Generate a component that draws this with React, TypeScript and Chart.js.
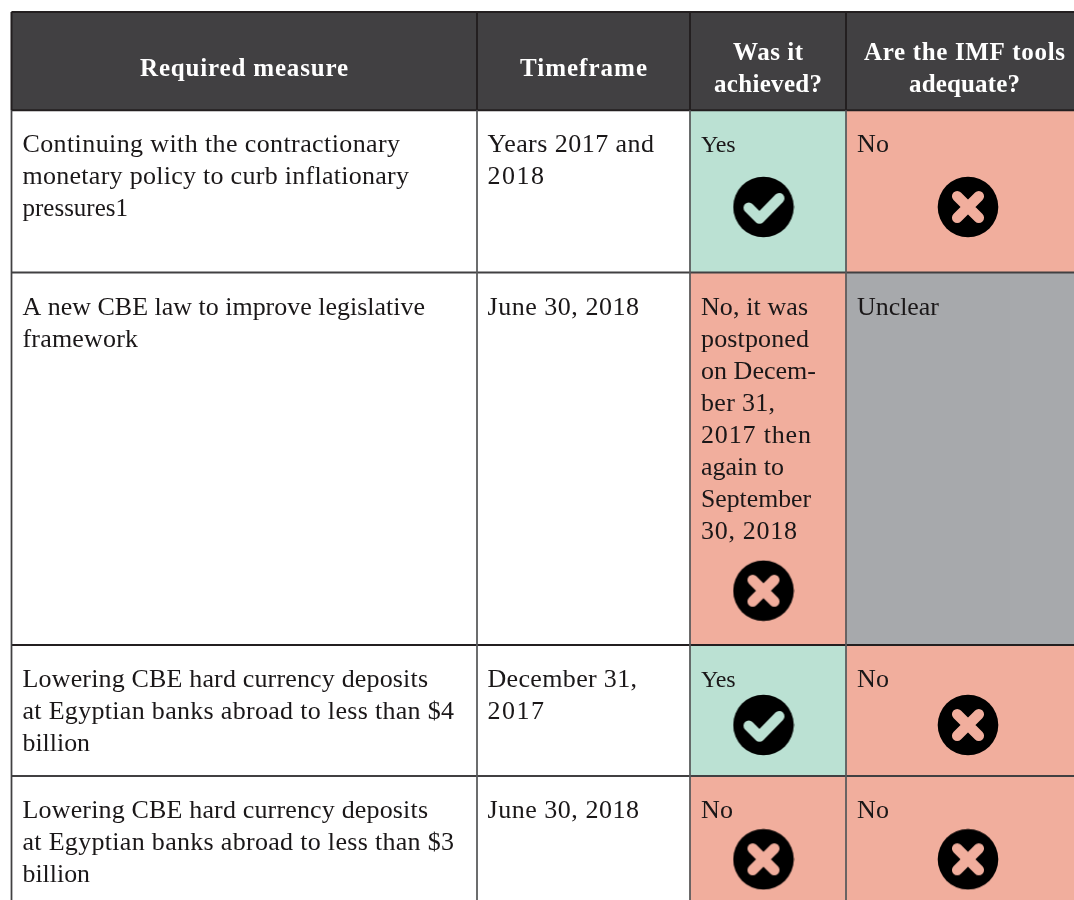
import React, { useEffect, useRef } from "react";
import { Chart, registerables } from "chart.js";

Chart.register(...registerables);

// ---- Table content ----
const headers: string[][] = [
  ["Required measure"],
  ["Timeframe"],
  ["Was it", "achieved?"],
  ["Are the IMF tools", "adequate?"],
];
const measures: string[][] = [
  ["Continuing with the contractionary", "monetary policy to curb inflationary", "pressures1"],
  ["A new CBE law to improve legislative", "framework"],
  ["Lowering CBE hard currency deposits", "at Egyptian banks abroad to less than $4", "billion"],
  ["Lowering CBE hard currency deposits", "at Egyptian banks abroad to less than $3", "billion"],
];
const timeframes: string[][] = [
  ["Years 2017 and", "2018"],
  ["June 30, 2018"],
  ["December 31,", "2017"],
  ["June 30, 2018"],
];
const achievedText: string[][] = [
  ["Yes"],
  ["No, it was", "postponed", "on Decem-", "ber 31,", "2017 then", "again to", "September", "30, 2018"],
  ["Yes"],
  ["No"],
];
const achievedStatus: string[] = ["yes", "no", "yes", "no"];
const adequateText: string[][] = [["No"], ["Unclear"], ["No"], ["No"]];
const adequateStatus: string[] = ["no", "unclear", "no", "no"];

// ---- Layout (in the scale's units, which are page pixels) ----
const W = 1074;
const H = 900;
const colEdges = [11.5, 477, 690, 846, 1076];
const rowEdges = [12, 110.3, 272.5, 645, 776, 905];
const textX = [22.5, 487.5, 701, 857];
const headBase = [[76], [76], [60, 92], [60, 92]];
const headSpan = [
  [[140, 348]],
  [[520, 647]],
  [[733, 803], [714, 822]],
  [[864, 1065], [909, 1020]],
];
const firstBase = [152, 315, 687, 818];
const lineStep = 32;
// right-hand end of every body line, so the substitute font keeps each line's length
const lineEnds: number[][][] = [
  [[400, 409, 128], [425, 138], [428, 454, 90], [428, 454, 90]],
  [[654, 544], [639], [637, 544], [639]],
  [[735.5], [808, 809, 816, 775, 811, 784, 811, 797], [735.5], [733]],
  [[889], [939], [889], [889]],
];
const iconAchievedX = 763.5;
const iconAdequateX = 968;
const iconY = [207, 590.7, 725, 859.3];

const COL = {
  head: "#414042",
  yes: "#bbe1d3",
  no: "#f1ae9d",
  unclear: "#a7a9ac",
  lineDark: "#231f20",
  line: "#58595b",
  text: "#1a1718",
};
const rowRuleColor = ["#414042", "#231f20", "#414042"];
const statusColor = (s: string) => (s === "yes" ? COL.yes : s === "no" ? COL.no : COL.unclear);

const ICON = 62;
function makeIcon(kind: string): HTMLCanvasElement {
  const c = document.createElement("canvas");
  c.width = ICON;
  c.height = ICON;
  const g = c.getContext("2d") as CanvasRenderingContext2D;
  g.translate(ICON / 2, ICON / 2);
  g.fillStyle = "#000";
  g.beginPath();
  g.arc(0, 0, 30.3, 0, Math.PI * 2);
  g.fill();
  g.strokeStyle = statusColor(kind);
  g.lineWidth = 10.5;
  g.lineCap = "round";
  g.lineJoin = "round";
  g.beginPath();
  if (kind === "yes") {
    g.moveTo(-14.75, 0.7);
    g.lineTo(-4, 11.5);
    g.lineTo(15.75, -8.75);
  } else {
    g.moveTo(-10.8, -10.8);
    g.lineTo(10.8, 10.8);
    g.moveTo(10.8, -10.8);
    g.lineTo(-10.8, 10.8);
  }
  g.stroke();
  return c;
}

function cellBar(x0: number, x1: number, y0: number, y1: number, color: string) {
  return {
    type: "bar" as const,
    data: [{ x: (x0 + x1) / 2, y: [y0, y1] }],
    backgroundColor: color,
    borderWidth: 0,
    barThickness: x1 - x0,
    grouped: false,
    order: 3,
  };
}
function rule(x0: number, y0: number, x1: number, y1: number, color: string, w: number) {
  return {
    type: "line" as const,
    data: [{ x: x0, y: y0 }, { x: x1, y: y1 }],
    borderColor: color,
    borderWidth: w,
    pointRadius: 0,
    order: 2,
  };
}
function icons(x: number, statuses: string[]) {
  const kept = statuses.map((s, i) => ({ s, i })).filter((o) => o.s !== "unclear");
  return {
    type: "scatter" as const,
    data: kept.map((o) => ({ x, y: iconY[o.i] })),
    pointStyle: kept.map((o) => makeIcon(o.s)),
    pointRadius: 31,
    showLine: false,
    order: 1,
  };
}

// Draws one line so that it spans x0..x1: the font shrinks a little (down to a floor)
// when the line is too long, and letter spacing takes up whatever remains.
function fitted(ctx: any, t: string, x0: number, x1: number, y: number, weight: string, size: number) {
  ctx.letterSpacing = "0px";
  ctx.font = `${weight}${size}px 'Liberation Serif'`;
  const target = x1 - x0;
  let natural = ctx.measureText(t).width;
  if (natural > target) {
    const smaller = Math.max(size - 2, (size * target) / natural);
    ctx.font = `${weight}${smaller}px 'Liberation Serif'`;
    natural = ctx.measureText(t).width;
  }
  ctx.letterSpacing = `${(target - natural) / Math.max(1, t.length - 1)}px`;
  ctx.fillText(t, x0, y);
}

const tablePlugin = {
  id: "tableText",
  afterDatasetsDraw(chart: any) {
    const { ctx, scales } = chart;
    const px = (v: number) => scales.x.getPixelForValue(v);
    const py = (v: number) => scales.y.getPixelForValue(v);
    ctx.save();
    ctx.textBaseline = "alphabetic";
    ctx.textAlign = "left";
    ctx.fillStyle = "#ffffff";
    headers.forEach((lines, c) =>
      lines.forEach((t, i) =>
        fitted(ctx, t, px(headSpan[c][i][0]), px(headSpan[c][i][1]), py(headBase[c][i]), "bold ", 25)
      )
    );
    ctx.fillStyle = COL.text;
    [measures, timeframes, achievedText, adequateText].forEach((col, c) =>
      col.forEach((lines, r) =>
        lines.forEach((t, i) =>
          fitted(ctx, t, px(textX[c]), px(lineEnds[c][r][i]), py(firstBase[r] + i * lineStep), "", 26)
        )
      )
    );
    ctx.restore();
  },
};

export default function App() {
  const ref = useRef<HTMLCanvasElement>(null);
  useEffect(() => {
    document.body.style.margin = "0";
    const datasets: any[] = [];
    headers.forEach((_, c) =>
      datasets.push(cellBar(colEdges[c], colEdges[c + 1], rowEdges[0], rowEdges[1], COL.head))
    );
    achievedStatus.forEach((s, r) =>
      datasets.push(cellBar(colEdges[2], colEdges[3], rowEdges[r + 1], rowEdges[r + 2], statusColor(s)))
    );
    adequateStatus.forEach((s, r) =>
      datasets.push(cellBar(colEdges[3], colEdges[4], rowEdges[r + 1], rowEdges[r + 2], statusColor(s)))
    );
    colEdges.slice(0, 4).forEach((x, i) => {
      datasets.push(rule(x, rowEdges[1], x, H + 5, i === 0 ? COL.head : COL.line, 1.75));
      datasets.push(rule(x, rowEdges[0], x, rowEdges[1], COL.lineDark, 2));
    });
    rowEdges.slice(2, 5).forEach((y, i) => datasets.push(rule(colEdges[0], y, W + 2, y, rowRuleColor[i], 2)));
    datasets.push(rule(colEdges[0], rowEdges[0], W + 2, rowEdges[0], COL.lineDark, 2));
    datasets.push(rule(colEdges[0], rowEdges[1], W + 2, rowEdges[1], COL.lineDark, 2));
    datasets.push(icons(iconAchievedX, achievedStatus));
    datasets.push(icons(iconAdequateX, adequateStatus));

    const chart = new Chart(ref.current as HTMLCanvasElement, {
      type: "bar",
      data: { datasets },
      options: {
        animation: false,
        responsive: false,
        devicePixelRatio: 1,
        layout: { padding: 0, autoPadding: false },
        clip: false,
        plugins: { legend: { display: false }, tooltip: { enabled: false }, title: { display: false } },
        scales: {
          x: { type: "linear", display: false, min: 0, max: W, offset: false },
          y: { type: "linear", display: false, min: 0, max: H, reverse: true },
        },
      },
      plugins: [tablePlugin],
    } as any);
    return () => chart.destroy();
  }, []);
  return <canvas ref={ref} width={W} height={H} style={{ display: "block", width: W, height: H }} />;
}
